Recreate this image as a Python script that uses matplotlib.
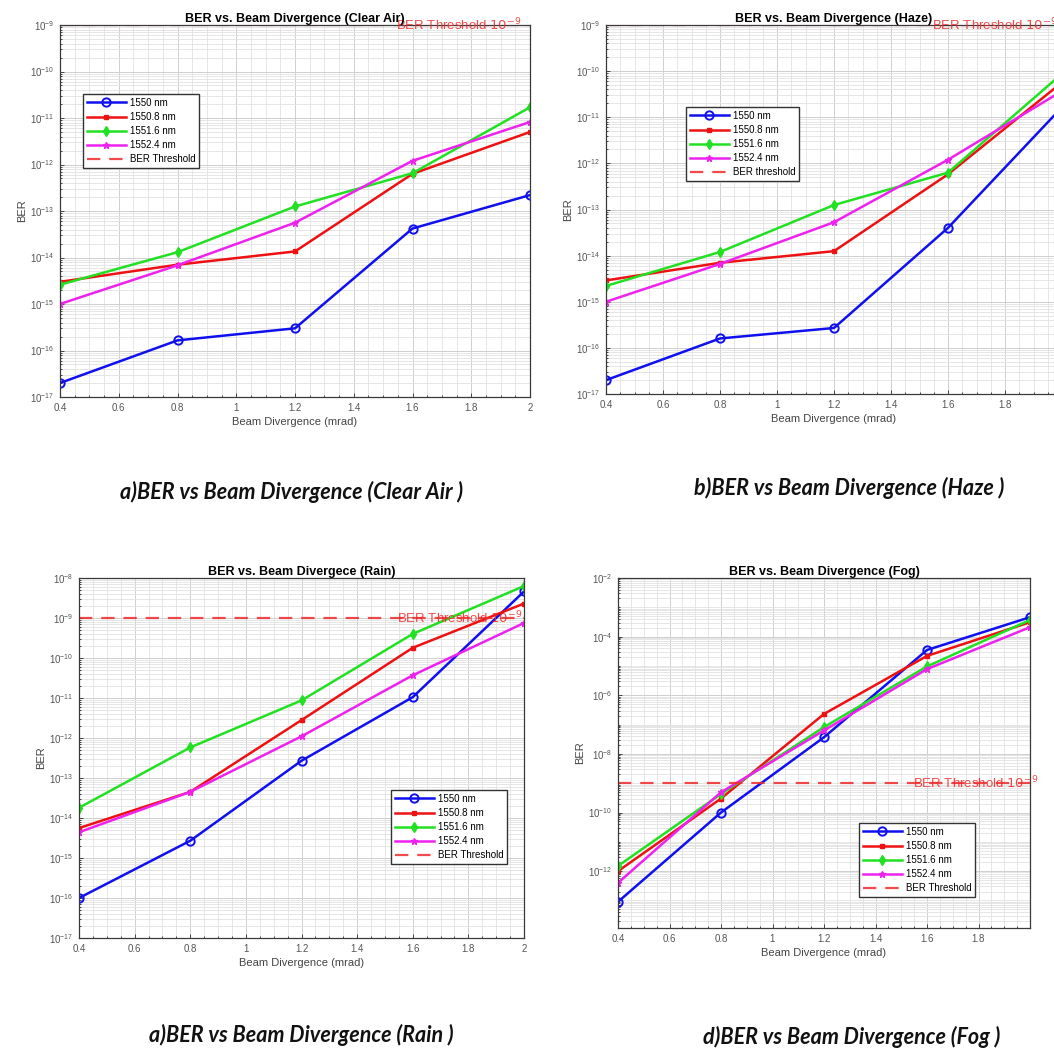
import matplotlib
matplotlib.use("Agg")
import matplotlib.pyplot as plt
from matplotlib.ticker import LogLocator, MultipleLocator, FixedLocator, NullFormatter

plt.rcParams["font.family"] = ["Liberation Sans", "DejaVu Sans"]

# beam divergence (mrad)
divergence = [0.4, 0.8, 1.2, 1.6, 2.0]
wavelengths = ["1550 nm", "1550.8 nm", "1551.6 nm", "1552.4 nm"]
ber_threshold = 1e-9

# BER values
clear_1550 = [2e-17, 1.65e-16, 3e-16, 4.2e-14, 2.2e-13]
clear_1550_8 = [3e-15, 7e-15, 1.35e-14, 6.3e-13, 5e-12]
clear_1551_6 = [2.6e-15, 1.3e-14, 1.25e-13, 6.5e-13, 1.7e-11]
clear_1552_4 = [1e-15, 6.8e-15, 5.6e-14, 1.2e-12, 8.2e-12]

haze_1550 = [2e-17, 1.6e-16, 2.7e-16, 4e-14, 1.65e-11]
haze_1550_8 = [2.9e-15, 7e-15, 1.25e-14, 5.8e-13, 5.7e-11]
haze_1551_6 = [2.2e-15, 1.2e-14, 1.25e-13, 6.3e-13, 8.8e-11]
haze_1552_4 = [1e-15, 6.6e-15, 5.3e-14, 1.2e-12, 3.7e-11]

rain_1550 = [1e-16, 2.7e-15, 2.7e-13, 1.05e-11, 4.6e-9]
rain_1550_8 = [5.6e-15, 4.5e-14, 2.8e-12, 1.8e-10, 2.3e-9]
rain_1551_6 = [1.8e-14, 5.8e-13, 8.7e-12, 4e-10, 6.3e-9]
rain_1552_4 = [4.4e-15, 4.5e-14, 1.1e-12, 3.7e-11, 7.5e-10]

fog_1550 = [9e-14, 1e-10, 3.7e-8, 3.5e-5, 4.6e-4]
fog_1550_8 = [1e-12, 3e-10, 2.3e-7, 2.2e-5, 3.1e-4]
fog_1551_6 = [1.5e-12, 4.3e-10, 8.2e-8, 9.6e-6, 3.7e-4]
fog_1552_4 = [4e-13, 4.9e-10, 6.3e-8, 7.8e-6, 2.1e-4]

W, H = 1054, 1048
fig = plt.figure(figsize=(W / 100, H / 100), dpi=100)


def px_axes(left, top, right, bottom):
    return fig.add_axes([left / W, 1 - bottom / H, (right - left) / W, (bottom - top) / H])


styles = [
    dict(color="#1010ee", marker="o", ms=6, mfc="none", mew=1.4),
    dict(color="#ee1111", marker="s", ms=3.5, mfc="#ee1111"),
    dict(color="#22e022", marker="d", ms=5.5, mfc="#22e022"),
    dict(color="#ee22ee", marker="*", ms=4.5, mfc="#ee22ee"),
]
all_xticks = [0.4, 0.6, 0.8, 1.0, 1.2, 1.4, 1.6, 1.8, 2.0]


def panel(box, title, series, ylim, legend_xy, thr_label, ymajor=None, xticks=all_xticks):
    ax = px_axes(*box)
    for vals, name, st in zip(series, wavelengths, styles):
        ax.plot(divergence, vals, lw=1.8, label=name, **st)
    ax.axhline(ber_threshold, color="#ee2a2a", lw=1.6, ls=(0, (6, 4)), alpha=0.85, label=thr_label)
    ax.text(1.545, ber_threshold, "BER Threshold $10^{-9}$", color="#ee2a2a", alpha=0.85,
            fontsize=9.5, va="center", ha="left", clip_on=False)

    ax.set_yscale("log")
    ax.set_ylim(*ylim)
    ax.set_xlim(0.4, 2.0)
    if ymajor is not None:
        ax.yaxis.set_major_locator(FixedLocator(ymajor))
    else:
        ax.yaxis.set_major_locator(LogLocator(base=10, numticks=20))
    ax.yaxis.set_minor_locator(LogLocator(base=10, subs=[1, 2, 3, 4, 5, 6, 7, 8, 9], numticks=40))
    ax.yaxis.set_minor_formatter(NullFormatter())
    ax.set_xticks(xticks)
    ax.set_xticklabels([f"{t:g}" for t in xticks])
    ax.xaxis.set_minor_locator(MultipleLocator(0.05))

    ax.grid(True, which="major", color="#cfcfcf", lw=0.7)
    ax.grid(True, which="minor", color="#e2e2e2", lw=0.6)
    ax.set_axisbelow(True)
    ax.tick_params(which="both", direction="in", labelsize=7, labelcolor="#555555",
                   color="#444444", length=3, width=0.7, pad=4)
    ax.tick_params(which="minor", length=1.5)
    for s in ax.spines.values():
        s.set_color("#3a3a3a")
        s.set_linewidth(0.9)

    ax.set_title(title, fontsize=9, fontweight="bold", pad=2)
    ax.set_xlabel("Beam Divergence (mrad)", fontsize=8, color="#444444", labelpad=3)
    ax.set_ylabel("BER", fontsize=8, color="#444444", labelpad=2)

    lx, ly = legend_xy
    ax.legend(loc="upper left", bbox_to_anchor=(lx / W, 1 - ly / H), bbox_transform=fig.transFigure,
              borderaxespad=0, fontsize=7, fancybox=False, framealpha=1, edgecolor="#333333",
              handlelength=4.0, labelspacing=0.42, borderpad=0.4, handletextpad=0.4)
    return ax


panel((60, 25, 530, 397), "BER vs. Beam Divergence (Clear Air)",
      [clear_1550, clear_1550_8, clear_1551_6, clear_1552_4], (1e-17, 1e-9), (83, 94), "BER Threshold")
# the haze plot runs past the right edge of the picture
panel((606, 25, 1062, 394), "BER vs. Beam Divergence (Haze)",
      [haze_1550, haze_1550_8, haze_1551_6, haze_1552_4], (1e-17, 1e-9), (686, 107), "BER threshold",
      xticks=all_xticks[:-1])
panel((79, 578, 524, 938), "BER vs. Beam Divergece (Rain)",
      [rain_1550, rain_1550_8, rain_1551_6, rain_1552_4], (1e-17, 1e-8), (391, 790), "BER Threshold")
panel((618, 578, 1030, 928), "BER vs. Beam Divergence (Fog)",
      [fog_1550, fog_1550_8, fog_1551_6, fog_1552_4], (1.15e-14, 1e-2), (859, 823), "BER Threshold",
      ymajor=[1e-12, 1e-10, 1e-8, 1e-6, 1e-4, 1e-2], xticks=all_xticks[:-1])

captions = [
    (292, 492, "a)BER vs Beam Divergence (Clear Air )"),
    (849, 488, "b)BER vs Beam Divergence (Haze )"),
    (301, 1035, "a)BER vs Beam Divergence (Rain )"),
    (852, 1037, "d)BER vs Beam Divergence (Fog )"),
]
for cx, cy, txt in captions:
    fig.text(cx / W, 1 - cy / H, txt, ha="center", va="center", fontsize=15.5,
             family=["Lato", "DejaVu Sans"], fontweight="bold", style="italic", color="#111111")

fig.savefig("out.png", dpi=100)
